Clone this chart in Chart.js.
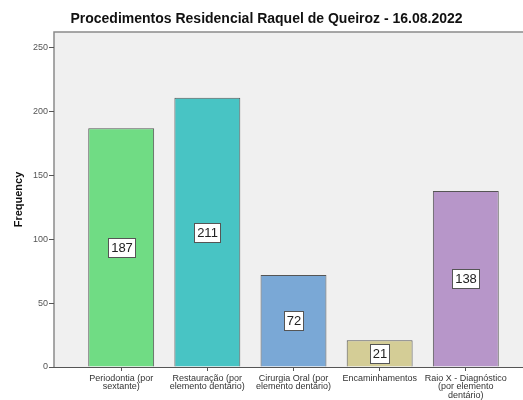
<!DOCTYPE html>
<html>
<head>
<meta charset="utf-8">
<script src="https://cdn.jsdelivr.net/npm/chart.js@4"></script>
<style>
  html, body { margin: 0; padding: 0; background: #fff; overflow: hidden; }
  canvas { display: block; }
</style>
</head>
<body>
<canvas id="chart" width="540" height="400"></canvas>
<script>
const categories = [
  ['Periodontia (por', 'sextante)'],
  ['Restauração (por', 'elemento dentário)'],
  ['Cirurgia Oral (por', 'elemento dentário)'],
  'Encaminhamentos',
  ['Raio X - Diagnóstico', '(por elemento', 'dentário)']
];
const frequency = [187, 211, 72, 21, 138];
const yTicks = [0, 50, 100, 150, 200, 250];
const barColors = ['#70dc84', '#48c4c4', '#7aa8d6', '#d4cd96', '#b796c9'];

// grey plot background + frame like SPSS
const plotFrame = {
  id: 'plotFrame',
  beforeDraw(chart) {
    const { ctx, chartArea: a } = chart;
    ctx.save();
    ctx.fillStyle = '#f0f0f0';
    ctx.fillRect(a.left, a.top, a.right - a.left, a.bottom - a.top);
    ctx.strokeStyle = '#8a8a8a';
    ctx.lineWidth = 1.5;
    ctx.beginPath();
    ctx.moveTo(a.left, a.bottom);
    ctx.lineTo(a.left, a.top);
    ctx.lineTo(a.right, a.top);
    ctx.stroke();
    ctx.restore();
  }
};

// white boxed value labels in the middle of each bar
const boxLabels = {
  id: 'boxLabels',
  afterDatasetsDraw(chart) {
    const { ctx } = chart;
    const meta = chart.getDatasetMeta(0);
    ctx.save();
    ctx.font = '13px "Liberation Sans", Arial, sans-serif';
    ctx.textAlign = 'center';
    ctx.textBaseline = 'middle';
    meta.data.forEach((bar, i) => {
      const txt = String(frequency[i]);
      const w = Math.round(ctx.measureText(txt).width + 5);
      const h = 19;
      const x0 = Math.round(bar.x - w / 2);
      const y0 = Math.round((bar.y + bar.base) / 2 - h / 2);
      ctx.fillStyle = '#ffffff';
      ctx.fillRect(x0, y0, w, h);
      ctx.strokeStyle = '#555555';
      ctx.lineWidth = 1;
      ctx.strokeRect(x0 + 0.5, y0 + 0.5, w, h);
      ctx.fillStyle = '#222222';
      ctx.fillText(txt, x0 + w / 2 + 0.5, y0 + h / 2 + 1);
    });
    ctx.restore();
  }
};

new Chart(document.getElementById('chart'), {
  type: 'bar',
  data: {
    datasets: [{
      label: 'Frequency',
      data: frequency.map((v, i) => ({ x: i, y: v })),
      backgroundColor: barColors,
      borderColor: '#555555',
      borderWidth: 1,
      barPercentage: 0.765,
      categoryPercentage: 1
    }]
  },
  options: {
    responsive: false,
    animation: false,
    layout: { padding: { left: 0, right: 7, top: 0, bottom: 0 } },
    plugins: {
      legend: { display: false },
      tooltip: { enabled: false },
      title: {
        display: true,
        text: 'Procedimentos Residencial Raquel de Queiroz - 16.08.2022',
        color: '#111',
        font: { family: '"Liberation Sans", Arial, sans-serif', size: 14, weight: 'bold' },
        padding: { top: 11, bottom: 4.2 }
      }
    },
    scales: {
      x: {
        type: 'linear',
        min: -0.78,
        max: 4.78,
        offset: false,
        afterBuildTicks(scale) {
          scale.ticks = categories.map((c, i) => ({ value: i }));
        },
        afterFit(scale) { scale.height = 33; },
        grid: { drawOnChartArea: false, tickLength: 4, color: '#555', offset: false },
        border: { color: '#555', width: 1 },
        ticks: {
          autoSkip: false,
          maxRotation: 0,
          padding: 3,
          color: '#333',
          font: { family: '"Liberation Sans", Arial, sans-serif', size: 9, lineHeight: 0.95 },
          callback: (v) => categories[v]
        }
      },
      y: {
        min: 0,
        max: 262.5,
        afterBuildTicks(scale) {
          scale.ticks = yTicks.map(v => ({ value: v }));
        },
        afterFit(scale) { scale.width = 54; },
        grid: { drawOnChartArea: false, tickLength: 5, color: '#555' },
        border: { display: false },
        ticks: {
          padding: 1,
          color: '#555',
          font: { family: '"Liberation Sans", Arial, sans-serif', size: 9 }
        },
        title: {
          display: true,
          text: 'Frequency',
          color: '#111',
          font: { family: '"Liberation Sans", Arial, sans-serif', size: 11, weight: 'bold' },
          padding: { top: 12, bottom: 0 }
        }
      }
    }
  },
  plugins: [plotFrame, boxLabels]
});
</script>
</body>
</html>
